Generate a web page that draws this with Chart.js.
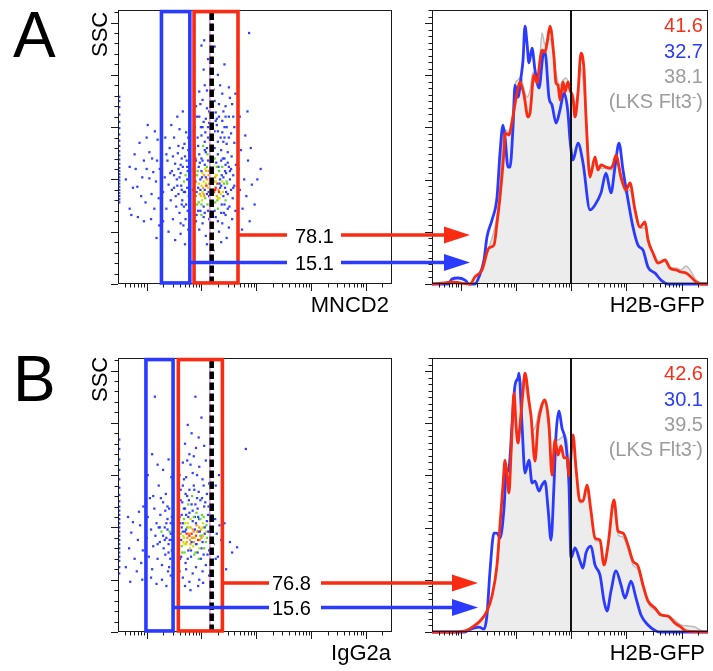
<!DOCTYPE html>
<html>
<head>
<meta charset="utf-8">
<script src="https://cdn.jsdelivr.net/npm/chart.js@4.4.0/dist/chart.umd.min.js"></script>
<style>
  html, body { margin: 0; padding: 0; background: #fff; }
  #fig { position: relative; width: 713px; height: 671px; overflow: hidden; font-family: "Liberation Sans", Arial, sans-serif; }
  canvas { position: absolute; }
  .scat { z-index: 2; }
  .hist { z-index: 1; }
  .t { position: absolute; z-index: 3; line-height: 1; white-space: nowrap; color: #000; }
  .rot { transform-origin: left top; transform: rotate(-90deg); }
  .red { color: #f5301a; }
  .blue { color: #2b3cf2; }
  .grey { color: #9c9c9c; }
  .sup { position: relative; top: -7px; font-size: 13px; }
</style>
</head>
<body>
<div id="fig">
  <canvas id="histA" class="hist" width="293" height="300" style="left:420px;top:0px"></canvas>
  <canvas id="scatA" class="scat" width="380" height="300" style="left:100px;top:0px"></canvas>
  <canvas id="histB" class="hist" width="293" height="300" style="left:420px;top:348px"></canvas>
  <canvas id="scatB" class="scat" width="380" height="300" style="left:100px;top:348px"></canvas>

  <div class="t" style="font-size:64px;left:13px;top:3px">A</div>
  <div class="t" style="font-size:64px;left:13px;top:347px">B</div>
  <div class="t rot" style="font-size:22px;left:89px;top:57px">SSC</div>
  <div class="t rot" style="font-size:22px;left:89px;top:402px">SSC</div>
  <div class="t" style="font-size:22px;right:324px;top:294px">MNCD2</div>
  <div class="t" style="font-size:22px;right:8px;top:294px">H2B-GFP</div>
  <div class="t" style="font-size:22px;right:322px;top:642px">IgG2a</div>
  <div class="t" style="font-size:22px;right:8px;top:642px">H2B-GFP</div>

  <div class="t" style="font-size:20px;left:295px;top:226px">78.1</div>
  <div class="t" style="font-size:20px;left:295px;top:253px">15.1</div>
  <div class="t" style="font-size:20px;left:272px;top:573px">76.8</div>
  <div class="t" style="font-size:20px;left:272px;top:598px">15.6</div>

  <div class="t red" style="font-size:20px;right:10px;top:15px">41.6</div>
  <div class="t blue" style="font-size:20px;right:10px;top:41px">32.7</div>
  <div class="t grey" style="font-size:20px;right:10px;top:66px">38.1</div>
  <div class="t grey" style="font-size:20px;right:10px;top:91px">(LKS Flt3<span class="sup">-</span>)</div>
  <div class="t red" style="font-size:20px;right:10px;top:363px">42.6</div>
  <div class="t blue" style="font-size:20px;right:10px;top:389px">30.1</div>
  <div class="t grey" style="font-size:20px;right:10px;top:414px">39.5</div>
  <div class="t grey" style="font-size:20px;right:10px;top:439px">(LKS Flt3<span class="sup">-</span>)</div>
</div>

<script>
// Data. Marker intensities are kept as log10 values, SSC in thousands,
// histogram counts as % of mode.
// *******************************************************************

// off-scale events piled up on the left edge of the dot plots (SSC)
const offscaleSscA = [78, 81, 84, 87, 90, 93, 96, 99, 102, 105, 108, 111, 115, 119, 123, 127, 132, 137, 143, 149, 155, 162, 169, 175, 179];
const offscaleSscB = [56, 62, 68, 72, 76, 80, 84, 88, 92, 96, 100, 104, 108, 112, 116, 120, 125, 131, 138, 146, 155, 165, 175, 184];

// [log10 MNCD2, SSC]
const eventsA = [
  [0.69,112],[0.78,124],[0.87,135],[0.95,118],[1.02,152],[1.0,140],[1.05,101],[0.92,102],[0.83,93],[0.75,92],
  [0.69,72],[0.72,66],[0.84,64],[1.14,72],[1.09,86],[1.19,118],[1.12,107],[1.05,126],[1.17,98],[1.22,82],
  [0.62,100],[0.98,78],[1.08,62],[1.2,138],[1.15,146],[0.9,84],[1.24,110],[1.0,110],[0.8,110],[1.1,120],
  [1.23,56],[0.95,60],[1.18,44],
  [1.3,88],[1.33,102],[1.36,72],[1.38,118],[1.4,95],[1.42,130],[1.44,80],[1.46,108],[1.48,62],[1.5,140],
  [1.5,92],[1.52,115],[1.54,74],[1.55,100],[1.57,125],[1.58,86],[1.6,148],[1.6,68],[1.62,106],[1.63,94],
  [1.64,120],[1.65,80],[1.66,112],[1.67,56],[1.68,98],[1.69,134],[1.7,88],[1.71,104],[1.72,76],[1.73,118],
  [1.74,92],[1.75,70],[1.75,108],[1.76,128],[1.77,84],[1.77,100],[1.34,140],[1.45,152],[1.56,160],[1.66,165],
  [1.72,145],[1.3,60],[1.4,50],[1.52,42],[1.62,48],[1.7,38],[1.58,110],[1.48,122],[1.64,90],[1.71,62],
  [1.68,74],[1.6,102],[1.74,112],[1.66,130],[1.53,84],[1.43,106],[1.36,124],[1.62,58],[1.76,52],[1.78,96],
  [1.5,104],[1.56,94],[1.62,114],[1.68,88],[1.74,100],[1.7,122],[1.64,76],[1.58,132],[1.46,90],[1.76,140],
  [1.85,90],[1.86,110],[1.87,75],[1.88,130],[1.89,98],[1.9,84],[1.9,118],[1.91,66],[1.92,104],[1.93,140],
  [1.94,92],[1.95,78],[1.95,112],[1.96,124],[1.97,86],[1.98,100],[1.98,70],[1.99,150],[2.0,94],[2.0,108],
  [2.01,80],[2.02,118],[2.02,88],[2.03,132],[2.04,98],[2.04,74],[2.05,104],[2.06,90],[2.06,114],[2.07,82],
  [2.08,96],[2.08,126],[2.09,108],[2.1,86],[2.1,100],[2.11,76],[2.12,92],[2.12,118],[2.13,104],[2.14,84],
  [2.14,96],[2.15,138],[2.16,90],[2.16,110],[2.17,72],[2.18,100],[2.18,86],[2.19,122],[2.2,94],[2.2,106],
  [2.21,80],[2.22,98],[2.22,114],[2.23,88],[2.24,130],[2.25,102],[2.25,78],[2.26,92],[2.27,116],[2.28,84],
  [2.28,104],[2.29,96],[2.3,72],[2.3,124],[2.31,90],[2.32,108],[2.33,82],[2.34,100],[2.35,140],[2.36,94],
  [2.37,76],[2.38,112],[2.39,88],[2.4,102],[2.41,68],[2.42,120],[2.43,92],[2.44,80],[2.45,106],[2.46,134],
  [2.47,96],[2.48,86],[2.5,112],[2.51,74],[2.52,100],[2.54,90],[2.55,122],[2.57,82],[2.58,104],[2.6,94],
  [2.62,70],[2.63,114],
  [1.87,95],[1.89,120],[1.91,88],[1.93,108],[1.95,96],[1.97,116],[1.99,84],[2.01,102],[2.03,92],[2.05,84],
  [2.07,110],[2.09,94],[2.11,124],[2.13,88],[2.15,100],[2.17,116],[2.19,92],[2.21,110],[2.23,98],[2.25,90],
  [2.27,104],[2.29,80],[2.31,112],[2.33,96],[2.35,86],[2.37,104],[2.39,120],[2.41,96],[2.43,108],[2.45,88],
  [1.92,76],[1.98,90],[2.04,86],[2.1,112],[2.16,98],[2.22,90],[2.28,112],[2.34,92],[2.4,84],[2.46,98],
  [2.52,108],[2.58,92],[2.02,106],[2.08,102],[2.14,108],[2.2,86],[2.26,98],[2.32,88],[2.38,98],[2.44,114],
  [1.94,70],[2.0,76],[2.06,68],[2.12,70],[2.18,78],[2.24,70],[2.3,82],[2.36,68],[2.42,76],[2.48,72],
  [1.92,160],[1.98,172],[2.04,155],[2.1,185],[2.14,165],[2.2,150],[2.24,175],[2.28,158],[2.34,190],[2.4,165],
  [2.46,150],[2.52,178],[2.58,160],[2.04,205],[2.12,215],[2.2,240],[2.3,200],[2.42,210],[2.0,228],[2.16,195],
  [1.88,150],[2.5,140],[2.38,145],[2.07,145],[2.6,135],
  [1.96,160],[2.02,150],[2.08,158],[2.14,154],[2.2,166],[2.26,156],[2.32,160],[2.38,156],[2.44,160],[2.5,160],
  [2.0,120],[2.06,136],[2.12,140],[2.18,144],[2.24,120],[2.3,146],[2.36,118],[2.42,140],[2.48,116],[2.54,110],
  [1.9,170],[1.96,184],[2.02,176],[2.06,190],[2.1,168],[2.16,178],[2.22,186],[2.26,164],[2.32,172],[2.38,182],
  [2.44,170],[2.5,188],[2.56,172],[2.62,182],[1.94,132],[2.0,142],[2.06,128],[2.12,150],[2.18,132],[2.24,146],
  [2.3,136],[2.36,128],[2.42,150],[2.48,126],[2.54,144],[2.6,150],[2.1,130],[2.28,152],[2.4,136],[1.86,146],
  [1.9,60],[1.96,52],[2.02,58],[2.08,46],[2.14,62],[2.2,54],[2.26,64],[2.32,50],[2.38,58],[2.44,66],
  [2.5,54],[2.56,62],[2.1,38],[2.22,32],[2.36,40],[2.0,66],[2.3,60],[2.46,44],[2.04,64],[2.18,68],
  [2.68,110],[2.7,90],[2.72,128],[2.75,72],[2.78,100],[2.8,142],[2.82,84],[2.85,118],[2.88,60],[2.92,95],
  [2.97,76],[3.02,100],[2.74,52],[2.9,130],[2.7,160],[2.67,190],[3.08,110],[2.84,165],
  [2.87,240],[2.05,233],[2.24,227]
];

// [log10 IgG2a, SSC]
const eventsB = [
  [0.62,62],[0.68,80],[0.72,95],[0.78,70],[0.84,88],[0.88,102],[0.9,66],[0.93,78],[0.75,105],[0.82,58],
  [0.66,110],[0.94,120],[0.86,115],[0.7,48],[0.92,50],
  [1.0,90],[1.02,110],[1.04,72],[1.06,128],[1.08,98],[1.1,60],[1.12,82],[1.14,118],[1.15,225],[1.16,92],
  [1.18,104],[1.2,70],[1.22,140],[1.24,86],[1.25,112],[1.27,96],[1.28,64],[1.3,124],[1.31,80],[1.33,100],
  [1.34,74],[1.35,132],[1.36,90],[1.38,108],[1.39,58],[1.4,84],[1.41,118],[1.42,96],[1.43,70],[1.44,104],
  [1.45,148],[1.46,88],[1.46,78],[1.02,150],[1.1,170],[1.2,160],[1.3,155],[1.4,165],[1.08,52],[1.18,46],
  [1.28,50],[1.36,44],[1.44,54],[1.12,130],[1.26,128],[1.38,120],[1.33,88],[1.22,100],[1.41,62],
  [1.3,92],[1.36,104],[1.42,88],[1.46,110],[1.4,76],[1.34,116],[1.44,94],[1.38,98],[1.24,100],[1.2,84],
  [1.58,96],[1.59,80],[1.6,110],[1.61,70],[1.62,126],[1.63,88],[1.64,100],[1.65,76],[1.66,140],[1.67,92],
  [1.68,108],[1.69,84],[1.7,118],[1.71,66],[1.72,98],[1.73,86],[1.74,130],[1.75,104],[1.76,78],[1.77,94],
  [1.78,114],[1.79,88],[1.8,100],[1.81,72],[1.82,122],[1.83,90],[1.84,106],[1.85,82],[1.86,96],[1.87,136],
  [1.88,110],[1.89,76],[1.9,92],[1.91,102],[1.92,84],[1.93,118],[1.94,96],[1.95,70],[1.96,108],[1.97,88],
  [1.98,126],[1.99,98],[2.0,80],[2.01,112],[2.02,92],[2.03,104],[2.04,74],[2.05,120],[2.06,94],[2.08,86],
  [2.1,106],[2.12,96],[2.14,78],[2.16,114],[2.18,90],[2.2,100],[2.22,84],[2.25,108],[2.28,94],[2.3,72],
  [2.33,102],[2.36,88],
  [1.66,96],[1.7,104],[1.74,90],[1.78,100],[1.82,94],[1.86,86],[1.9,104],[1.94,110],[1.98,92],[2.02,100],
  [1.72,112],[1.8,84],[1.88,98],[1.96,80],[1.76,122],[1.84,116],[1.92,128],[1.64,82],[1.68,118],[2.0,90],
  [1.62,94],[1.64,112],[1.66,104],[1.68,90],[1.7,96],[1.72,84],[1.74,100],[1.76,110],[1.78,92],[1.8,108],
  [1.82,86],[1.84,98],[1.86,110],[1.88,90],[1.9,84],[1.92,96],[1.94,88],[1.96,100],[1.98,108],[2.0,98],
  [2.02,86],[2.04,110],[2.06,100],[2.08,96],[2.1,90],[2.12,112],
  [1.63,72],[1.69,76],[1.75,70],[1.81,78],[1.87,74],[1.93,76],[1.99,70],[2.05,80],[2.11,74],[2.17,82],
  [1.65,124],[1.71,132],[1.77,126],[1.83,130],[1.89,122],[1.95,134],[2.01,128],[2.07,124],[2.13,120],[2.19,110],
  [1.61,104],[1.67,86],[1.73,94],[1.79,80],[1.85,90],[1.91,114],[1.97,96],[2.03,92],[2.09,102],[2.15,96],
  [1.6,150],[1.66,162],[1.72,148],[1.78,170],[1.84,152],[1.9,176],[1.96,158],[2.02,146],[2.08,164],[2.14,142],
  [2.2,156],[2.26,140],[2.32,150],[1.7,180],[1.82,190],[1.95,186],[2.05,178],[1.89,225],[1.75,198],[2.0,205],
  [1.62,136],[1.86,140],[2.1,132],[2.18,128],[1.78,136],
  [1.68,146],[1.8,160],[1.92,150],[2.04,140],[1.74,164],[1.86,168],
  [1.6,58],[1.66,52],[1.72,60],[1.78,48],[1.84,56],[1.9,62],[1.96,50],[2.02,58],[2.08,64],[2.14,54],
  [2.2,62],[1.8,40],[1.94,44],[2.03,47],[2.26,70],[1.7,44],
  [2.42,104],[2.52,86],[2.56,76],[2.65,81],[2.81,175],[2.45,60]
];

// gates on log10 marker axis, and the isotype cut-off (dashed)
const gatesA = { red: [1.865, 2.667], blue: [1.27, 1.788] };
const gatesB = { red: [1.578, 2.382], blue: [0.987, 1.482] };
const isotypeCut = 2.187;
const gateSsc = [1, 260.5];

// H2B-GFP histograms: [log10 GFP, % of mode]
const gfpRedA = [
  [0.477,0],[0.713,0.4],[0.839,0.8],[0.984,0.4],[1.166,0],[1.256,2.7],[1.383,5.4],[1.51,13.8],[1.6,14.9],[1.655,23.4],
  [1.709,33.3],[1.782,51.3],[1.8,57.8],[1.872,57.1],[1.89,58.2],[1.963,66.7],[2.017,73.2],[2.071,77.4],[2.144,72.4],[2.216,64.0],
  [2.253,65.5],[2.325,80.1],[2.379,77.0],[2.434,85.8],[2.47,89.6],[2.524,88.9],[2.561,92.3],[2.615,98.8],[2.687,87.0],[2.723,77.0],
  [2.76,76.2],[2.796,70.5],[2.85,77.4],[2.887,73.6],[2.941,77.4],[2.977,74.3],[3.032,71.3],[3.068,64.0],[3.122,73.2],[3.176,88.5],
  [3.231,82.0],[3.267,64.0],[3.339,41.0],[3.43,48.7],[3.484,43.7],[3.539,45.6],[3.629,44.8],[3.702,44.4],[3.756,45.6],[3.81,49.4],
  [3.901,41.0],[3.992,36.0],[4.064,38.7],[4.155,28.4],[4.245,21.8],[4.336,23.8],[4.39,16.9],[4.481,11.9],[4.571,8.0],[4.698,9.2],
  [4.789,6.1],[4.897,5.4],[4.988,4.6],[5.079,4.2],[5.169,2.7],[5.26,0.8],[5.35,0],[5.477,0]
];
const gfpBlueA = [
  [0.477,0],[0.767,0],[0.839,1.9],[0.948,2.3],[1.075,1.5],[1.147,0],[1.256,0],[1.328,2.7],[1.419,9.2],[1.473,18.0],
  [1.564,24.5],[1.655,33.3],[1.709,50.2],[1.763,60.9],[1.8,56.3],[1.854,44.8],[1.89,44.8],[1.945,60.1],[1.981,76.2],[2.035,71.6],
  [2.09,79.3],[2.126,85.8],[2.162,98.8],[2.198,92.3],[2.234,84.7],[2.289,90.4],[2.343,82.0],[2.416,75.1],[2.488,87.7],[2.524,88.9],
  [2.597,71.3],[2.651,68.6],[2.724,61.7],[2.796,66.7],[2.869,73.2],[2.941,65.5],[2.977,55.2],[3.032,47.5],[3.122,54.0],[3.213,46.4],
  [3.339,28.4],[3.43,30.3],[3.539,34.9],[3.629,42.5],[3.72,34.9],[3.792,44.8],[3.865,54.0],[3.937,43.7],[4.028,32.2],[4.118,21.8],
  [4.209,14.9],[4.3,13.0],[4.39,6.5],[4.517,4.2],[4.626,1.5],[4.753,0],[5.477,0]
];
const gfpGreyA = [
  [0.477,0],[1.166,0],[1.31,1.9],[1.419,8.4],[1.492,13.0],[1.582,18.8],[1.655,26.4],[1.709,37.9],[1.763,57.1],[1.818,59.0],
  [1.872,57.8],[1.927,60.9],[1.981,76.2],[2.035,78.2],[2.09,79.3],[2.144,74.3],[2.198,71.6],[2.253,74.3],[2.307,81.2],[2.361,78.2],
  [2.416,82.0],[2.47,96.2],[2.524,91.6],[2.579,94.2],[2.633,93.5],[2.687,85.8],[2.742,78.9],[2.796,76.2],[2.85,78.2],[2.905,78.9],
  [2.959,76.2],[3.014,70.5],[3.068,68.6],[3.122,74.3],[3.176,82.8],[3.231,74.3],[3.285,59.0],[3.339,43.7],[3.43,45.6],[3.521,44.4],
  [3.629,44.4],[3.738,43.7],[3.81,47.5],[3.901,39.8],[3.992,34.9],[4.064,36.0],[4.155,27.6],[4.245,21.5],[4.336,21.5],[4.427,14.9],
  [4.517,10.3],[4.608,8.4],[4.698,8.4],[4.789,6.1],[4.897,6.1],[4.988,5.4],[5.079,6.9],[5.151,5.4],[5.26,1.5],[5.35,0.4],[5.477,0]
];
const gfpRedB = [
  [0.477,0],[0.839,0],[1.075,0.4],[1.238,2.3],[1.347,4.2],[1.473,8.0],[1.564,13.8],[1.655,25.7],[1.709,41.0],[1.763,56.3],
  [1.8,65.9],[1.836,60.1],[1.872,53.3],[1.908,67.8],[1.963,91.6],[1.999,79.3],[2.035,72.4],[2.071,79.3],[2.126,92.3],[2.162,99.2],
  [2.234,88.5],[2.271,82.8],[2.343,65.5],[2.397,79.3],[2.47,87.0],[2.524,88.9],[2.597,79.3],[2.651,60.1],[2.705,73.6],[2.76,67.8],
  [2.814,71.3],[2.869,66.7],[2.923,66.7],[2.959,59.8],[3.032,75.5],[3.086,62.8],[3.158,50.2],[3.213,50.2],[3.285,56.3],[3.357,46.4],
  [3.43,36.0],[3.521,35.2],[3.593,25.7],[3.666,33.3],[3.774,50.6],[3.847,38.7],[3.937,37.9],[4.028,33.3],[4.118,27.2],[4.209,25.3],
  [4.3,18.0],[4.39,11.9],[4.517,9.2],[4.626,6.5],[4.753,6.1],[4.88,3.4],[4.988,1.9],[5.079,0.4],[5.477,0]
];
const gfpBlueB = [
  [0.477,0],[1.075,0],[1.147,0.8],[1.328,1.9],[1.419,1.1],[1.473,6.5],[1.528,23.4],[1.6,37.9],[1.655,37.9],[1.709,36.0],
  [1.782,47.5],[1.818,60.1],[1.872,62.8],[1.927,79.3],[1.981,94.6],[2.035,97.3],[2.053,99.2],[2.108,79.3],[2.162,60.9],[2.234,65.9],
  [2.289,57.1],[2.343,57.8],[2.416,54.0],[2.47,56.3],[2.524,57.8],[2.579,47.5],[2.633,35.2],[2.687,56.3],[2.724,75.5],[2.778,84.7],
  [2.832,78.2],[2.887,74.3],[2.923,67.8],[2.959,56.3],[2.995,28.4],[3.068,32.2],[3.158,27.2],[3.213,24.5],[3.267,30.3],[3.357,32.9],
  [3.43,25.7],[3.521,21.8],[3.593,11.9],[3.647,8.0],[3.72,15.7],[3.81,23.4],[3.901,18.0],[3.973,13.0],[4.082,19.5],[4.173,13.0],
  [4.263,6.5],[4.39,2.7],[4.535,0.4],[4.626,0],[5.477,0]
];
const gfpGreyB = [
  [0.477,0],[0.894,0],[1.166,0.8],[1.347,3.8],[1.473,7.7],[1.564,13.8],[1.655,24.5],[1.709,39.1],[1.763,54.4],[1.818,62.8],
  [1.872,62.1],[1.927,77.4],[1.981,94.6],[2.035,97.3],[2.09,94.6],[2.144,97.3],[2.198,90.8],[2.253,84.3],[2.307,77.4],[2.361,79.3],
  [2.416,85.0],[2.47,87.7],[2.524,87.7],[2.579,79.3],[2.651,65.9],[2.705,73.6],[2.76,73.6],[2.814,74.3],[2.869,75.1],[2.923,73.6],
  [2.959,62.1],[3.032,73.6],[3.086,62.1],[3.158,49.4],[3.213,49.8],[3.285,55.5],[3.357,45.6],[3.43,35.2],[3.521,34.5],[3.593,25.3],
  [3.666,32.2],[3.774,48.7],[3.847,37.2],[3.937,36.4],[4.028,31.4],[4.118,25.7],[4.209,23.8],[4.3,16.9],[4.39,11.1],[4.517,8.4],
  [4.626,6.9],[4.753,6.1],[4.88,4.6],[4.988,2.7],[5.115,2.3],[5.242,1.9],[5.332,0.8],[5.477,0]
];
const gfpCut = 3; // log10 of the H2B-GFP gate

// axis ticks
const logMajor = [10, 100, 1000, 10000, 100000];
const sscMajor = [0, 50, 100, 150, 200, 250];
const pctMajor = [0, 20, 40, 60, 80, 100];

// Colors
// ********************
const RED = '#f92b12';
const BLUE = '#2a3bff';
const DOT = ['rgba(25,45,255,0.9)', '#62d82a', '#d6e000', '#ff9a10', '#ff2a10'];

const logMinor = [];
[1, 10, 100, 1000, 10000, 100000].forEach((d) => {
  for (let k = 2; k <= 9; k++) if (k * d > 3 && k * d < 300000) logMinor.push(k * d);
});
const range = (step, max) => Array.from({ length: Math.floor(max / step) + 1 }, (_, i) => i * step);

// frame + ticks drawn from the chart's own scales
function framePlugin(yMajor, yMinor, extra) {
  return {
    id: 'frame',
    afterDatasetsDraw(chart) {
      const { ctx, chartArea: a, scales } = chart;
      ctx.save();
      ctx.strokeStyle = '#1a1a1a';
      ctx.lineWidth = 1;
      ctx.strokeRect(Math.round(a.left) + 0.5, Math.round(a.top) + 0.5, Math.round(a.right - a.left) - 1, Math.round(a.bottom - a.top) - 1);
      ctx.beginPath();
      const bx = (v, len) => {
        const x = Math.round(scales.x.getPixelForValue(v)) + 0.5;
        ctx.moveTo(x, a.bottom); ctx.lineTo(x, a.bottom + len);
      };
      const ly = (v, len) => {
        const y = Math.round(scales.y.getPixelForValue(v)) + 0.5;
        ctx.moveTo(a.left, y); ctx.lineTo(a.left - len, y);
      };
      logMajor.forEach((v) => bx(v, 7));
      logMinor.forEach((v) => bx(v, 3.5));
      yMajor.forEach((v) => ly(v, 7));
      yMinor.forEach((v) => ly(v, 3.5));
      ctx.stroke();
      ctx.restore();
      if (extra) extra(chart);
    },
  };
}

// pseudo-colour by local event density
function densityColors(pts) {
  const n = pts.map((p) => pts.filter((q) => Math.abs(q[0] - p[0]) < 0.1 && Math.abs(q[1] - p[1]) < 12).length);
  const max = Math.max(...n);
  return n.map((c, i) => {
    const r = c / max;
    if (r > 0.9 && i % 2 === 0) return DOT[4];
    if (r > 0.78 && i % 3 !== 1) return DOT[3];
    if (r > 0.6 && i % 2 === 1) return DOT[2];
    if (r > 0.38 && i % 3 === 0) return DOT[1];
    return DOT[0];
  });
}

// links: page-pixel layout of the connector lines, labels and arrows
function scatterChart(id, top, events, offscale, gates, links) {
  const pts = events.concat(offscale.map((s) => [0.5, s]));
  const colors = densityColors(pts);

  const gatePlugin = (chart) => {
    const { ctx, scales } = chart;
    const x = scales.x, y = scales.y;
    const yTop = y.getPixelForValue(gateSsc[1]);
    const yBot = y.getPixelForValue(gateSsc[0]);
    ctx.save();
    // isotype line
    const cx = x.getPixelForValue(10 ** isotypeCut);
    ctx.strokeStyle = '#fff'; ctx.lineWidth = 4.5;
    ctx.beginPath(); ctx.moveTo(cx, yTop); ctx.lineTo(cx, yBot); ctx.stroke();
    ctx.strokeStyle = '#e27ae2'; ctx.lineWidth = 1.2;
    ctx.beginPath(); ctx.moveTo(cx - 1.8, yTop); ctx.lineTo(cx - 1.8, yBot); ctx.stroke();
    ctx.strokeStyle = '#000'; ctx.lineWidth = 4.5; ctx.setLineDash([7.5, 3.5]);
    ctx.beginPath(); ctx.moveTo(cx, yTop + 1); ctx.lineTo(cx, yBot); ctx.stroke();
    ctx.setLineDash([]);
    // gates
    [['blue', BLUE], ['red', RED]].forEach(([k, col]) => {
      const x0 = x.getPixelForValue(10 ** gates[k][0]);
      const x1 = x.getPixelForValue(10 ** gates[k][1]);
      ctx.strokeStyle = col; ctx.lineWidth = 3.6;
      ctx.strokeRect(x0, yTop, x1 - x0, yBot - yTop);
    });
    // connectors + arrows
    links.forEach((l) => {
      const col = l.gate === 'red' ? RED : BLUE;
      const x0 = x.getPixelForValue(10 ** gates[l.gate][1]);
      const yy = l.y - top;
      ctx.strokeStyle = col; ctx.fillStyle = col; ctx.lineWidth = 3.4;
      ctx.beginPath();
      ctx.moveTo(x0, yy); ctx.lineTo(l.labelLeft - 100, yy);
      ctx.moveTo(l.labelRight - 100, yy); ctx.lineTo(l.head - 100, yy);
      ctx.stroke();
      ctx.beginPath();
      ctx.moveTo(l.head - 101, yy - 8.5);
      ctx.lineTo(l.tip - 100, yy);
      ctx.lineTo(l.head - 101, yy + 8.5);
      ctx.closePath(); ctx.fill();
    });
    ctx.restore();
  };

  new Chart(document.getElementById(id), {
    type: 'scatter',
    data: {
      datasets: [{
        data: pts.map((p) => ({ x: 10 ** p[0], y: p[1] })),
        pointStyle: 'rect',
        pointRadius: 1.6,
        pointBorderWidth: 0,
        pointBackgroundColor: colors,
      }],
    },
    options: {
      responsive: false,
      animation: false,
      events: [],
      layout: { padding: { left: 18, top: 10, right: 88, bottom: 16 } },
      plugins: { legend: { display: false }, tooltip: { enabled: false } },
      scales: {
        x: { type: 'logarithmic', min: 3, max: 300000, display: false },
        y: { type: 'linear', min: 0, max: 262, display: false },
      },
    },
    plugins: [framePlugin(sscMajor, range(10, 260), gatePlugin)],
  });
}

function histChart(id, red, blue, grey) {
  const ds = (pts, color, w, fill) => ({
    data: pts.map((p) => ({ x: 10 ** p[0], y: p[1] })),
    borderColor: color,
    borderWidth: w,
    backgroundColor: fill || 'transparent',
    fill: fill ? 'origin' : false,
    pointRadius: 0,
    cubicInterpolationMode: 'monotone',
    clip: 4,
  });
  const cutLine = (chart) => {
    const { ctx, chartArea: a, scales } = chart;
    const x = Math.round(scales.x.getPixelForValue(10 ** gfpCut));
    ctx.save();
    ctx.strokeStyle = '#111'; ctx.lineWidth = 2;
    ctx.beginPath(); ctx.moveTo(x, a.top); ctx.lineTo(x, a.bottom); ctx.stroke();
    ctx.restore();
  };
  new Chart(document.getElementById(id), {
    type: 'line',
    data: {
      datasets: [
        ds(red, RED, 2.8),
        ds(blue, BLUE, 2.8),
        ds(grey, '#bdbdbd', 1.5, '#ececec'),
      ],
    },
    options: {
      responsive: false,
      animation: false,
      events: [],
      layout: { padding: { left: 12, top: 10, right: 5, bottom: 16 } },
      plugins: { legend: { display: false }, tooltip: { enabled: false } },
      scales: {
        x: { type: 'logarithmic', min: 3, max: 300000, display: false },
        y: { type: 'linear', min: 0, max: 105, display: false },
      },
    },
    plugins: [framePlugin(pctMajor, range(2.5, 105), cutLine)],
  });
}

// Render
// ********************
histChart('histA', gfpRedA, gfpBlueA, gfpGreyA);
histChart('histB', gfpRedB, gfpBlueB, gfpGreyB);
scatterChart('scatA', 0, eventsA, offscaleSscA, gatesA, [
  { gate: 'red', y: 235, labelLeft: 287, labelRight: 341, head: 445, tip: 470 },
  { gate: 'blue', y: 262.5, labelLeft: 287, labelRight: 341, head: 445, tip: 470 },
]);
scatterChart('scatB', 348, eventsB, offscaleSscB, gatesB, [
  { gate: 'red', y: 583, labelLeft: 269, labelRight: 321, head: 453, tip: 478 },
  { gate: 'blue', y: 607.5, labelLeft: 269, labelRight: 321, head: 453, tip: 478 },
]);
</script>
</body>
</html>
